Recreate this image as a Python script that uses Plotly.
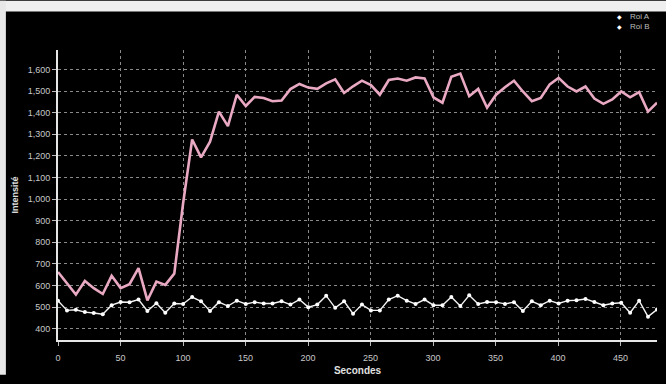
import plotly.graph_objects as go

# Acquisition times (s)
secondes = [0, 7.2, 14.3, 21.5, 28.6, 35.8, 42.9, 50.1, 57.2, 64.4, 71.5, 78.7, 85.8, 93.0,
            100.1, 107.3, 114.4, 121.6, 128.7, 135.9, 143.0, 150.2, 157.3, 164.5, 171.6,
            178.8, 185.9, 193.1, 200.2, 207.4, 214.5, 221.7, 228.8, 236.0, 243.1, 250.3,
            257.4, 264.6, 271.7, 278.9, 286.0, 293.2, 300.3, 307.5, 314.6, 321.8, 328.9,
            336.1, 343.2, 350.4, 357.5, 364.7, 371.8, 379.0, 386.1, 393.3, 400.4, 407.6,
            414.7, 421.9, 429.0, 436.2, 443.3, 450.5, 457.6, 464.8, 471.9, 479.1]

# Mean intensity inside each region of interest
roi_a = [663, 610, 558, 621, 588, 561, 645, 588, 606, 681, 531, 618, 603, 655,
         982, 1276, 1193, 1266, 1405, 1338, 1483, 1431, 1473, 1468, 1453, 1456,
         1509, 1533, 1516, 1510, 1536, 1554, 1491, 1522, 1548, 1528, 1483, 1551,
         1558, 1548, 1563, 1558, 1471, 1446, 1566, 1581, 1476, 1510, 1423, 1483,
         1518, 1548, 1498, 1453, 1468, 1531, 1561, 1521, 1498, 1521, 1465, 1441,
         1461, 1498, 1471, 1495, 1405, 1446]

roi_b = [530, 485, 488, 477, 473, 467, 509, 524, 523, 535, 482, 518, 474, 517,
         515, 547, 527, 482, 523, 505, 530, 515, 523, 517, 517, 527, 512, 535,
         500, 512, 553, 497, 527, 470, 512, 485, 485, 535, 553, 530, 515, 535,
         509, 509, 547, 505, 555, 515, 524, 523, 515, 523, 482, 527, 509, 530,
         517, 530, 532, 538, 524, 509, 517, 520, 474, 530, 456, 489]

series_names = ["Roi A", "Roi B"]
y_ticks = [400, 500, 600, 700, 800, 900, 1000, 1100, 1200, 1300, 1400, 1500, 1600]
x_ticks = [0, 50, 100, 150, 200, 250, 300, 350, 400, 450]

pink = "#e9a9c2"
font_family = "Liberation Sans, Arial, sans-serif"

fig = go.Figure()

fig.add_trace(go.Scatter(x=secondes, y=roi_a, mode="lines", name=series_names[0],
                         line=dict(color=pink, width=2.6), showlegend=False))
fig.add_trace(go.Scatter(x=secondes, y=roi_b, mode="lines+markers", name=series_names[1],
                         line=dict(color="#f4f4f4", width=1.4),
                         marker=dict(color="#ffffff", size=4), showlegend=False))

axis_common = dict(
    showline=True, linecolor="#e6e6e6", linewidth=2,
    showgrid=True, gridcolor="#8a8a8a", gridwidth=1, griddash="dot",
    ticks="outside", ticklen=4, tickcolor="#bbbbbb", tickwidth=1,
    tickfont=dict(family=font_family, size=9, color="#c8c8c8"),
    zeroline=False,
)

fig.update_xaxes(range=[0, 479.1], tickvals=x_ticks, ticklabelstandoff=4, **axis_common,
                 title=dict(text="<b>Secondes</b>", standoff=5,
                            font=dict(family=font_family, size=10, color="#e0e0e0")))
fig.update_yaxes(range=[348, 1690], tickvals=y_ticks, tickformat=",d", **axis_common,
                 title=dict(text="<b>Intensité</b>", standoff=8,
                            font=dict(family=font_family, size=9, color="#e0e0e0")))

# Compact legend in the top-right corner: white bullet + series name
annotations = []
for k, nom in enumerate(series_names):
    y_pos = 1.115 - k * 0.034
    annotations.append(dict(xref="paper", yref="paper", x=0.945, y=y_pos, xanchor="right",
                            yanchor="middle", text="◆", showarrow=False,
                            font=dict(family="DejaVu Sans", size=6, color="#ffffff")))
    annotations.append(dict(xref="paper", yref="paper", x=0.952, y=y_pos, xanchor="left",
                            yanchor="middle", text=nom, showarrow=False,
                            font=dict(family=font_family, size=8, color="#bdbdbd")))

fig.update_layout(
    width=666, height=384,
    margin=dict(l=58, r=9, t=50, b=33),
    paper_bgcolor="#000000", plot_bgcolor="#000000",
    showlegend=False,
    annotations=annotations,
    shapes=[
        # light window frame along the top and left edges
        dict(type="rect", xref="paper", yref="paper", x0=-0.11, x1=1.02, y0=1.133, y1=1.17,
             fillcolor="#efefef", line=dict(width=0), layer="below"),
        dict(type="rect", xref="paper", yref="paper", x0=-0.11, x1=-0.087, y0=-0.12, y1=1.17,
             fillcolor="#e8e8e8", line=dict(width=0), layer="below"),
    ],
)

fig.write_html("out.html")
